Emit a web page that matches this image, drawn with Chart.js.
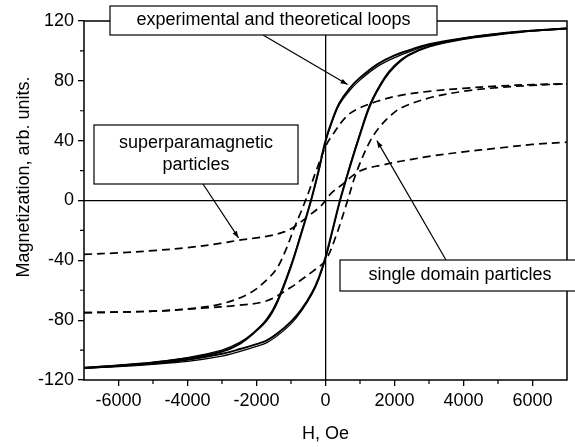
<!DOCTYPE html>
<html>
<head>
<meta charset="utf-8">
<script src="https://cdn.jsdelivr.net/npm/chart.js@4.4.1/dist/chart.umd.min.js"></script>
<style>
  body { margin: 0; background: #fff; }
</style>
</head>
<body>
<canvas id="loopChart" width="575" height="447"></canvas>
<script>
// tick values
const xTicks = [-6000, -4000, -2000, 0, 2000, 4000, 6000];
const xMinorTicks = [-5000, -3000, -1000, 1000, 3000, 5000];
const yTicks = [-120, -80, -40, 0, 40, 80, 120];
const yMinorTicks = [-100, -60, -20, 20, 60, 100];

// experimental loop (solid, thick)
const expUpH = [-7000, -6000, -5000, -4000, -3000, -2500, -2100, -1700, -1400, -1000, -700, -420, -200, 0, 200, 400, 700, 1000, 1500, 2000, 2500, 3000, 4000, 5000, 6000, 7000];
const expUpM = [-112, -110.5, -108.5, -105.5, -101, -96, -89, -80, -68, -44, -22, 0, 20, 40, 54, 65, 75, 82, 91, 97, 101, 104.5, 108.5, 111.5, 113.5, 115];
const expLoH = [-7000, -6000, -5000, -4000, -3000, -2500, -2000, -1700, -1400, -1000, -700, -400, -200, 0, 200, 420, 700, 1000, 1300, 1700, 2000, 2400, 3000, 4000, 5000, 6000, 7000];
const expLoM = [-112, -110.5, -109, -106.5, -102.5, -99.5, -96, -93.5, -89, -81, -73, -62, -52, -38, -20, 0, 22, 44, 64, 81, 89.5, 97, 103, 108, 111, 113.5, 115];

// theoretical loop (solid, thin)
const thUpH = [-7000, -6000, -5000, -4000, -3000, -2500, -2100, -1700, -1400, -1000, -700, -420, -200, 0, 200, 400, 700, 1000, 1500, 2000, 2500, 3000, 4000, 5000, 6000, 7000];
const thUpM = [-111.5, -110, -108, -105, -100, -95, -88.5, -79, -67, -43, -21, 0, 19, 39, 53, 64, 73.5, 80.5, 89.5, 95.5, 100, 104, 108.5, 111.5, 113.5, 115];
const thLoH = [-7000, -6000, -5000, -4000, -3000, -2500, -2000, -1700, -1400, -1000, -700, -400, -200, 0, 200, 420, 700, 1000, 1300, 1700, 2000, 2400, 3000, 4000, 5000, 6000, 7000];
const thLoM = [-112, -111, -109.5, -107.5, -104, -101, -97.5, -95, -90.5, -82.5, -74, -63, -53, -39, -21, 0, 23, 45, 65, 82, 90.5, 97.5, 103, 108, 111, 113.5, 115];

// single domain particles (dashed loop)
const sdUpH = [-7000, -5000, -4000, -3000, -2200, -1700, -1400, -1150, -900, -700, -580, -450, -300, 0, 150, 600, 1000, 1600, 2100, 3000, 4000, 5000, 6000, 7000];
const sdUpM = [-75, -74, -72.5, -69, -62, -53, -45, -33, -18, -7, 0, 8, 18, 36, 42, 56, 62, 67, 70, 73, 75, 76.5, 77.5, 78];
const sdLoH = [-7000, -5000, -3600, -2500, -1700, -1000, -700, -350, 0, 300, 600, 900, 1300, 1600, 1900, 2200, 3000, 4000, 5000, 6000, 7000];
const sdLoM = [-75, -74, -72, -70, -67, -58, -53, -47, -40, -24, -3, 19, 40, 50, 57, 62, 68.5, 73, 75.5, 77, 78];

// superparamagnetic particles (dashed, no hysteresis)
const spH = [-7000, -6000, -5000, -4000, -3000, -2500, -2000, -1600, -1200, -900, -500, -150, 0, 150, 500, 900, 1200, 1600, 2000, 2500, 3000, 4000, 5000, 6000, 7000];
const spM = [-36, -35, -33.5, -31.5, -28.5, -26.5, -25, -23.5, -21, -17.5, -10.5, -4, 0, 4.5, 11, 18.5, 21.5, 23.5, 25.5, 27.5, 29.5, 32.5, 35, 37.5, 39];

const FONT = "'Liberation Sans', Arial, Helvetica, sans-serif";

function pts(hs, ms) {
    return hs.map((h, i) => ({x: h, y: ms[i]}));
}

function solid(label, hs, ms, width) {
    return {
        label: label,
        data: pts(hs, ms),
        showLine: true,
        borderColor: "#000",
        borderWidth: width,
        pointRadius: 0,
        tension: 0.35,
        fill: false
    };
}

function dashed(label, hs, ms) {
    return {
        label: label,
        data: pts(hs, ms),
        showLine: true,
        borderColor: "#000",
        borderWidth: 1.7,
        borderDash: [8, 5],
        pointRadius: 0,
        tension: 0.35,
        fill: false
    };
}

// labels: box in canvas pixels, arrow tip in data units
const notes = [
    {lines: ["experimental and theoretical loops"], box: [110, 6, 437, 35], from: [263, 35], tip: {x: 640, y: 77.5}},
    {lines: ["superparamagnetic", "particles"], box: [94, 125, 298, 184], from: [203, 184], tip: {x: -2520, y: -25}},
    {lines: ["single domain particles"], box: [340, 260, 580, 291], from: [446, 260], tip: {x: 1490, y: 40}}
];

const framePlugin = {
    id: "frame",
    beforeDatasetsDraw(chart) {
        const {ctx, chartArea} = chart;
        ctx.save();
        ctx.strokeStyle = "#000";
        ctx.lineWidth = 1.5;
        ctx.strokeRect(chartArea.left, chartArea.top, chartArea.right - chartArea.left, chartArea.bottom - chartArea.top);
        ctx.restore();
    }
};

const extrasPlugin = {
    id: "extras",
    afterDraw(chart) {
        const {ctx, chartArea} = chart;
        const xs = chart.scales.x;
        const ys = chart.scales.y;
        ctx.save();
        ctx.strokeStyle = "#000";
        ctx.lineWidth = 1.2;

        // minor ticks
        ctx.beginPath();
        xMinorTicks.forEach(v => {
            const px = xs.getPixelForValue(v);
            ctx.moveTo(px, chartArea.bottom);
            ctx.lineTo(px, chartArea.bottom + 4);
        });
        yMinorTicks.forEach(v => {
            const py = ys.getPixelForValue(v);
            ctx.moveTo(chartArea.left, py);
            ctx.lineTo(chartArea.left - 4, py);
        });
        ctx.stroke();

        // annotation arrows and boxes
        ctx.font = "18px " + FONT;
        ctx.textAlign = "center";
        ctx.textBaseline = "middle";
        notes.forEach(n => {
            const tx = xs.getPixelForValue(n.tip.x);
            const ty = ys.getPixelForValue(n.tip.y);
            const [fx, fy] = n.from;
            ctx.lineWidth = 1.2;
            ctx.beginPath();
            ctx.moveTo(fx, fy);
            ctx.lineTo(tx, ty);
            ctx.stroke();
            const a = Math.atan2(ty - fy, tx - fx);
            ctx.beginPath();
            ctx.moveTo(tx, ty);
            ctx.lineTo(tx - 7 * Math.cos(a) + 2.5 * Math.sin(a), ty - 7 * Math.sin(a) - 2.5 * Math.cos(a));
            ctx.lineTo(tx - 7 * Math.cos(a) - 2.5 * Math.sin(a), ty - 7 * Math.sin(a) + 2.5 * Math.cos(a));
            ctx.closePath();
            ctx.fillStyle = "#000";
            ctx.fill();

            const [x1, y1, x2, y2] = n.box;
            ctx.fillStyle = "#fff";
            ctx.fillRect(x1, y1, x2 - x1, y2 - y1);
            ctx.strokeRect(x1, y1, x2 - x1, y2 - y1);
            ctx.fillStyle = "#000";
            const lh = 22;
            const cx = (x1 + x2) / 2;
            const cy = (y1 + y2) / 2 - (n.lines.length - 1) * lh / 2;
            n.lines.forEach((t, i) => ctx.fillText(t, cx, cy + i * lh));
        });

        // y axis title
        ctx.translate(24, 177);
        ctx.rotate(-Math.PI / 2);
        ctx.fillText("Magnetization, arb. units.", 0, 0);
        ctx.restore();
    }
};

const chart = new Chart(document.getElementById("loopChart"), {
    type: "scatter",
    data: {
        datasets: [
            dashed("superparamagnetic particles", spH, spM),
            dashed("single domain, upper", sdUpH, sdUpM),
            dashed("single domain, lower", sdLoH, sdLoM),
            solid("theoretical, upper", thUpH, thUpM, 1.2),
            solid("theoretical, lower", thLoH, thLoM, 1.2),
            solid("experimental, upper", expUpH, expUpM, 2),
            solid("experimental, lower", expLoH, expLoM, 2)
        ]
    },
    options: {
        responsive: false,
        animation: false,
        layout: {padding: {top: 21, right: 8, left: 0, bottom: 0}},
        plugins: {
            legend: {display: false},
            tooltip: {enabled: false}
        },
        scales: {
            x: {
                type: "linear",
                min: -7000,
                max: 7000,
                afterBuildTicks: function(scale) {
                    scale.ticks = xTicks.map(v => ({value: v}));
                },
                afterFit: function(scale) {
                    scale.height = 67;
                },
                ticks: {
                    color: "#000",
                    font: {size: 18, family: FONT},
                    padding: 4,
                    maxRotation: 0,
                    autoSkip: false,
                    callback: v => String(v)
                },
                grid: {
                    color: c => (c.tick && c.tick.value === 0) ? "#000" : "rgba(0,0,0,0)",
                    lineWidth: 1.3,
                    tickLength: 6,
                    tickColor: "#000",
                    tickWidth: 1.3
                },
                border: {display: false},
                title: {
                    display: true,
                    text: "H, Oe",
                    color: "#000",
                    font: {size: 18, family: FONT},
                    padding: {top: 0, bottom: 2}
                }
            },
            y: {
                type: "linear",
                min: -120,
                max: 120,
                afterBuildTicks: function(scale) {
                    scale.ticks = yTicks.map(v => ({value: v}));
                },
                afterFit: function(scale) {
                    scale.width = 84;
                },
                ticks: {
                    color: "#000",
                    font: {size: 18, family: FONT},
                    padding: 4,
                    callback: v => String(v)
                },
                grid: {
                    color: c => (c.tick && c.tick.value === 0) ? "#000" : "rgba(0,0,0,0)",
                    lineWidth: 1.3,
                    tickLength: 6,
                    tickColor: "#000",
                    tickWidth: 1.3
                },
                border: {display: false}
            }
        }
    },
    plugins: [framePlugin, extrasPlugin]
});
</script>
</body>
</html>
